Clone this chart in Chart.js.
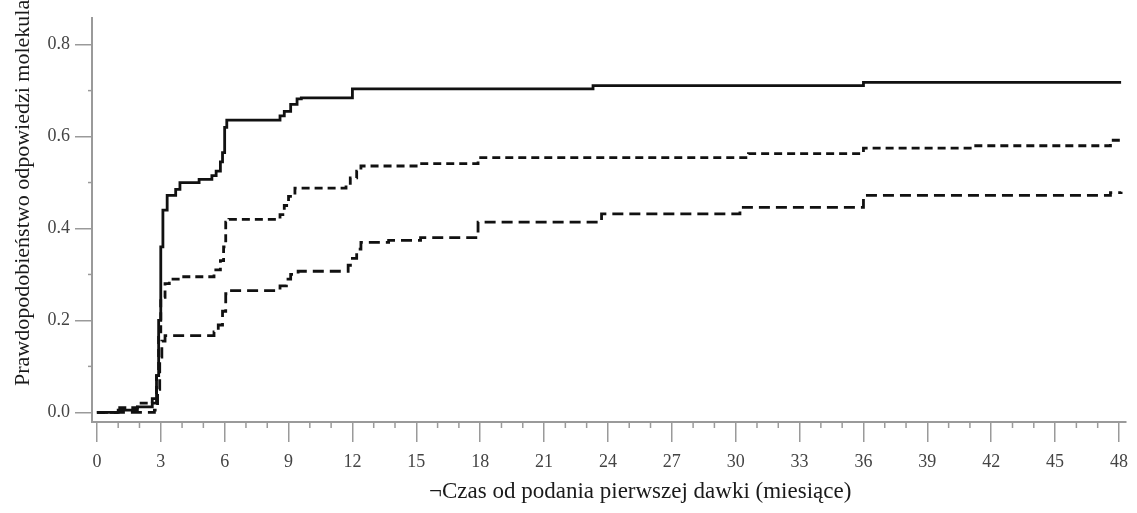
<!DOCTYPE html>
<html>
<head>
<meta charset="utf-8">
<script src="https://cdn.jsdelivr.net/npm/chart.js@4/dist/chart.umd.min.js"></script>
<style>
  html, body { margin: 0; padding: 0; background: #fff; }
  #wrap { width: 1137px; height: 513px; position: relative; }
</style>
</head>
<body>
<div id="wrap"><canvas id="kmChart"></canvas></div>
<script>
// Czas (miesiące) i prawdopodobieństwo - krzywa główna
const solidT = [0, 1.0, 1.9, 2.6, 2.8, 2.9, 3.0, 3.1, 3.3, 3.7, 3.9, 4.8, 5.4, 5.6, 5.8, 5.9, 6.0, 6.1, 8.6, 8.8, 9.1, 9.4, 9.6, 12.0, 23.3, 36.0, 48.1];
const solidV = [0, 0.005, 0.012, 0.02, 0.08, 0.20, 0.36, 0.44, 0.472, 0.485, 0.50, 0.507, 0.515, 0.525, 0.545, 0.565, 0.62, 0.636, 0.645, 0.655, 0.67, 0.682, 0.684, 0.704, 0.711, 0.718, 0.718];

// górna granica przedziału
const upperT = [0, 1.0, 1.9, 2.6, 2.8, 2.9, 3.0, 3.2, 3.4, 3.9, 5.5, 5.8, 5.95, 6.05, 6.2, 8.6, 8.8, 9.0, 9.3, 11.7, 11.9, 12.2, 12.4, 15.1, 17.9, 30.6, 36.0, 41.2, 47.6, 48.1];
const upperV = [0, 0.01, 0.02, 0.03, 0.08, 0.17, 0.25, 0.28, 0.29, 0.295, 0.31, 0.33, 0.36, 0.414, 0.42, 0.43, 0.45, 0.47, 0.488, 0.495, 0.51, 0.525, 0.536, 0.541, 0.554, 0.563, 0.575, 0.58, 0.592, 0.598];

// dolna granica przedziału
const lowerT = [0, 2.7, 2.85, 2.95, 3.05, 3.2, 5.5, 5.7, 5.9, 6.05, 6.2, 8.6, 8.9, 9.1, 9.45, 11.8, 12.0, 12.2, 12.4, 13.7, 15.2, 17.9, 23.7, 30.2, 36.0, 47.6, 48.1];
const lowerV = [0, 0.005, 0.05, 0.12, 0.155, 0.167, 0.175, 0.19, 0.22, 0.258, 0.265, 0.275, 0.29, 0.30, 0.307, 0.32, 0.335, 0.355, 0.37, 0.374, 0.38, 0.414, 0.432, 0.446, 0.472, 0.478, 0.48];

const xTicks = [0, 3, 6, 9, 12, 15, 18, 21, 24, 27, 30, 33, 36, 39, 42, 45, 48];
const yTicks = [0, 0.2, 0.4, 0.6, 0.8];
const yMinor = [0.1, 0.3, 0.5, 0.7];

const xTitle = '\u00acCzas od podania pierwszej dawki (miesiące)';
const yTitle = 'Prawdopodobieństwo odpowiedzi molekularnej';

const toPoints = (t, v) => t.map((x, i) => ({ x: x, y: v[i] }));

const axisGray = '#9a9a9a';
const serif = "'Liberation Serif', 'DejaVu Serif', serif";

// minor ticks + axis titles
const extrasPlugin = {
    id: 'extras',
    afterDraw(chart) {
        const ctx = chart.ctx;
        const xs = chart.scales.x;
        const ys = chart.scales.y;
        const area = chart.chartArea;
        ctx.save();
        ctx.strokeStyle = axisGray;
        ctx.lineWidth = 1.5;
        for (let m = 1; m < 48; m++) {
            if (m % 3 === 0) continue;
            const px = xs.getPixelForValue(m);
            ctx.beginPath();
            ctx.moveTo(px, area.bottom);
            ctx.lineTo(px, area.bottom + 6);
            ctx.stroke();
        }
        yMinor.forEach(v => {
            const py = ys.getPixelForValue(v);
            ctx.beginPath();
            ctx.moveTo(area.left - 4, py);
            ctx.lineTo(area.left, py);
            ctx.stroke();
        });

        ctx.fillStyle = '#1a1a1a';
        ctx.font = '23px ' + serif;
        ctx.textBaseline = 'middle';
        ctx.textAlign = 'left';
        ctx.fillText(xTitle, 429, 492);

        ctx.translate(23, 386);
        ctx.rotate(-Math.PI / 2);
        ctx.font = '22px ' + serif;
        ctx.textAlign = 'left';
        ctx.fillText(yTitle, 0, 0);
        ctx.restore();
    }
};

const lineStyle = {
    borderColor: '#111',
    borderWidth: 2.8,
    pointRadius: 0,
    fill: false,
    stepped: true,
    tension: 0
};

new Chart(document.getElementById('kmChart'), {
    type: 'line',
    data: {
        datasets: [
            Object.assign({ label: 'KM', data: toPoints(solidT, solidV) }, lineStyle),
            Object.assign({ label: 'górna', data: toPoints(upperT, upperV), borderDash: [8, 5] }, lineStyle),
            Object.assign({ label: 'dolna', data: toPoints(lowerT, lowerV), borderDash: [11, 6] }, lineStyle)
        ]
    },
    options: {
        responsive: true,
        maintainAspectRatio: false,
        animation: false,
        layout: { padding: { top: 18, right: 4, left: 0, bottom: 0 } },
        plugins: {
            legend: { display: false },
            tooltip: { enabled: false }
        },
        scales: {
            x: {
                type: 'linear',
                min: -0.23,
                max: 48.33,
                afterBuildTicks: s => { s.ticks = xTicks.map(v => ({ value: v })); },
                afterFit: s => { s.height = 91; },
                ticks: {
                    color: '#444',
                    font: { family: serif, size: 18 },
                    padding: 9,
                    maxRotation: 0,
                    autoSkip: false,
                    callback: v => String(v)
                },
                grid: { drawOnChartArea: false, drawTicks: true, tickLength: 20, color: axisGray, lineWidth: 1.5 },
                border: { display: true, color: axisGray, width: 2 }
            },
            y: {
                type: 'linear',
                min: -0.021,
                max: 0.858,
                afterBuildTicks: s => { s.ticks = yTicks.map(v => ({ value: v })); },
                afterFit: s => { s.width = 92; },
                ticks: {
                    color: '#444',
                    font: { family: serif, size: 18 },
                    padding: 5,
                    callback: v => v.toFixed(1)
                },
                grid: { drawOnChartArea: false, drawTicks: true, tickLength: 17, color: axisGray, lineWidth: 1.5 },
                border: { display: true, color: axisGray, width: 2 }
            }
        }
    },
    plugins: [extrasPlugin]
});
</script>
</body>
</html>
